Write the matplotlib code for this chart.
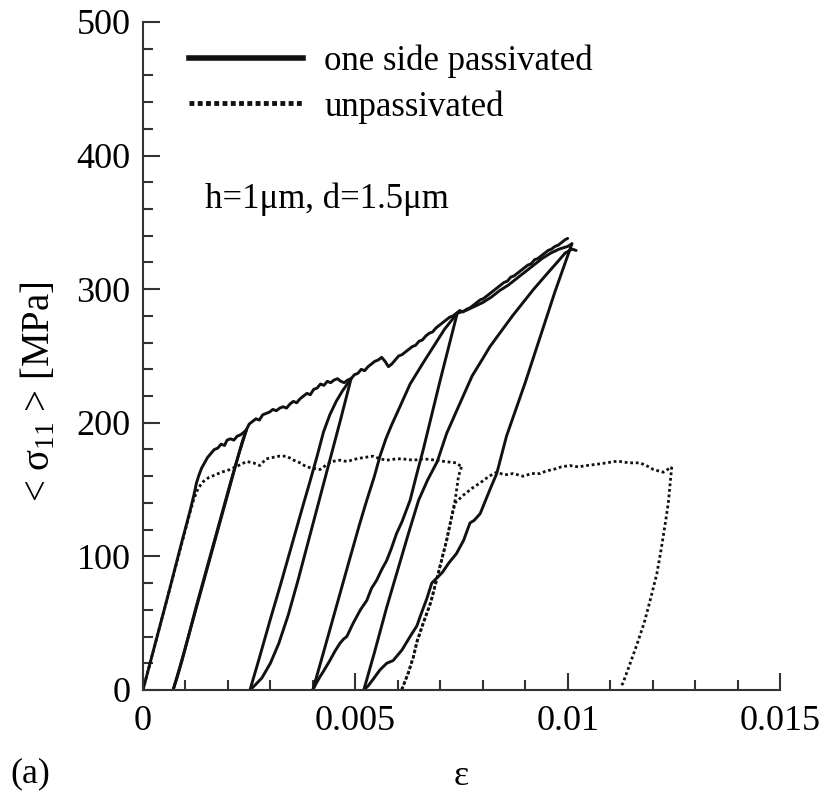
import numpy as np
import matplotlib
matplotlib.use("Agg")
import matplotlib.pyplot as plt
from matplotlib.lines import Line2D
from matplotlib.ticker import MultipleLocator, FixedLocator, FixedFormatter

plt.rcParams['font.family'] = ['Liberation Serif', 'DejaVu Serif']
plt.rcParams['mathtext.fontset'] = 'custom'
plt.rcParams['mathtext.rm'] = 'Liberation Serif'
plt.rcParams['mathtext.it'] = 'Liberation Serif:italic'

# strain values are given in units of 1e-3, stresses in MPa
# ---- one side passivated: monotonic loading ----
pas_main_eps = [0, 0.30, 0.60, 0.90, 1.10, 1.20, 1.26, 1.32, 1.38, 1.45, 1.52, 1.60, 1.68, 1.76,
                1.84, 1.92, 1.98, 2.06, 2.14, 2.22, 2.30, 2.38, 2.44, 2.50, 2.58, 2.66, 2.74, 2.82,
                2.90, 2.98, 3.06, 3.14, 3.22, 3.30, 3.38, 3.46, 3.54, 3.62, 3.70, 3.78, 3.86, 3.94,
                4.02, 4.10, 4.18, 4.26, 4.34, 4.42, 4.50, 4.58, 4.66, 4.74, 4.82, 4.90, 4.98, 5.06,
                5.14, 5.22, 5.30, 5.38, 5.46, 5.54, 5.62, 5.70, 5.78, 5.86, 5.94, 6.02, 6.10, 6.18,
                6.26, 6.34, 6.42, 6.50, 6.58, 6.66, 6.74, 6.82, 6.90, 6.98, 7.06, 7.14, 7.22, 7.30,
                7.38, 7.46, 7.54, 7.62, 7.70, 7.78, 7.86, 7.94, 8.02, 8.10, 8.18, 8.26, 8.34, 8.42,
                8.50, 8.58, 8.66, 8.74, 8.82, 8.90, 8.98, 9.06, 9.14, 9.22, 9.30, 9.38, 9.46, 9.54,
                9.62, 9.70, 9.78, 9.86, 9.94, 10.00]
pas_main_sig = [0, 36, 72, 109, 133, 146, 155, 161, 166, 170, 174, 177, 180, 181,
                184, 183, 187, 188, 187, 190, 191, 193, 195, 199, 201, 203, 202, 206,
                207, 208, 210, 209, 211, 212, 211, 214, 216, 215, 218, 220, 222, 221,
                225, 226, 229, 228, 231, 230, 232, 233, 231, 230, 232, 233, 236, 237,
                240, 239, 242, 244, 246, 247, 249, 246, 242, 244, 247, 250, 251, 253,
                255, 257, 258, 261, 262, 265, 267, 268, 271, 273, 275, 277, 279, 280,
                282, 284, 283, 285, 286, 288, 290, 292, 293, 295, 297, 299, 301, 303,
                305, 306, 309, 310, 312, 314, 316, 318, 319, 322, 323, 325, 327, 329,
                330, 332, 333, 335, 337, 338]

# ---- one side passivated: unloading / reloading cycles ----
pas_unload1_eps = [2.44, 2.25, 2.05, 1.85, 1.65, 1.45, 1.25, 1.07, 0.92, 0.80, 0.71]
pas_unload1_sig = [195, 176, 154, 131, 108, 85, 62, 40, 22, 9, 0]
pas_reload1_eps = [0.71, 0.84, 1.00, 1.20, 1.40, 1.60, 1.80, 2.00, 2.18, 2.34, 2.44]
pas_reload1_sig = [0, 14, 32, 55, 78, 101, 124, 147, 168, 186, 195]

pas_unload2_eps = [4.90, 4.65, 4.40, 4.15, 3.90, 3.65, 3.42, 3.20, 3.00, 2.80, 2.62, 2.52]
pas_unload2_sig = [233, 202, 172, 142, 112, 82, 56, 35, 20, 9, 3, 0]
pas_reload2_eps = [2.52, 2.75, 3.00, 3.25, 3.50, 3.75, 3.95, 4.10, 4.25, 4.40, 4.55, 4.70, 4.90]
pas_reload2_sig = [0, 25, 53, 80, 108, 136, 158, 175, 193, 206, 216, 224, 233]

pas_unload3_eps = [7.40, 7.20, 7.00, 6.80, 6.60, 6.45, 6.29, 6.10, 5.97, 5.85, 5.74, 5.62, 5.50,
                   5.38, 5.27, 5.12, 4.95, 4.80, 4.72, 4.64, 4.52, 4.40, 4.25, 4.17, 4.08, 4.00]
pas_unload3_sig = [282, 257, 232, 206, 180, 162, 142, 126, 117, 106, 97, 90, 82,
                   76, 67, 60, 50, 40, 38, 35, 29, 22, 14, 10, 5, 0]
pas_reload3_eps = [4.00, 4.25, 4.55, 4.85, 5.10, 5.27, 5.45, 5.58, 5.72, 5.85, 6.05, 6.29, 6.60,
                   6.84, 7.10, 7.40, 7.60, 7.80, 8.00, 8.20, 8.40, 8.60, 8.80, 9.00, 9.20, 9.40,
                   9.60, 9.80, 10.00, 10.10]
pas_reload3_sig = [0, 28, 62, 96, 124, 142, 160, 175, 188, 198, 212, 229, 245,
                   257, 270, 282, 284, 287, 290, 294, 299, 303, 308, 313, 318, 323,
                   327, 330, 332, 334]

pas_unload4_eps = [10.10, 9.70, 9.35, 9.00, 8.56, 8.33, 8.17, 7.94, 7.80, 7.70, 7.55, 7.38, 7.20,
                   7.05, 6.80, 6.68, 6.55, 6.45, 6.29, 6.10, 5.89, 5.74, 5.58, 5.42, 5.30, 5.20]
pas_unload4_sig = [334, 298, 264, 230, 190, 162, 150, 132, 127, 125, 112, 102, 95,
                   88, 80, 68, 57, 48, 40, 30, 22, 20, 15, 8, 3, 0]
pas_reload4_eps = [5.20, 5.45, 5.74, 6.00, 6.25, 6.49, 6.70, 6.93, 7.15, 7.40, 7.75, 8.00, 8.17,
                   8.40, 8.70, 8.95, 9.20, 9.50, 9.75, 9.94, 10.10, 10.20]
pas_reload4_sig = [0, 28, 62, 90, 117, 142, 157, 171, 192, 210, 235, 248, 257,
                   267, 280, 290, 300, 311, 320, 327, 330, 329]

# ---- unpassivated ----
unp_load_eps = [0, 0.30, 0.60, 0.90, 1.10, 1.20, 1.30, 1.42, 1.55, 1.70, 1.85, 2.05, 2.25, 2.44,
                2.60, 2.75, 2.90, 3.05, 3.20, 3.38, 3.55, 3.70, 3.85, 4.00, 4.17, 4.30, 4.45,
                4.64, 4.80, 5.03, 5.20, 5.42, 5.58, 5.74, 5.97, 6.10, 6.37, 6.60, 6.91, 7.10,
                7.38, 7.50]
unp_load_sig = [0, 36, 72, 108, 132, 143, 151, 156, 159, 161, 163, 165, 168, 171,
                170, 168, 173, 174, 175, 175, 172, 170, 167, 166, 165, 168, 171,
                172, 171, 173, 174, 175, 173, 172, 173, 173, 172, 173, 172, 171,
                170, 167]
unp_unload1_eps = [7.50, 7.43, 7.35, 7.25, 7.15, 7.03, 6.91, 6.78, 6.60, 6.45, 6.37, 6.25, 6.09]
unp_unload1_sig = [167, 160, 142, 127, 112, 97, 82, 66, 50, 36, 25, 13, 0]
unp_reload_eps = [6.09, 6.25, 6.37, 6.45, 6.60, 6.78, 6.91, 7.03, 7.15, 7.25, 7.35, 7.55, 7.75,
                  7.94, 8.15, 8.33, 8.52, 8.72, 8.95, 9.15, 9.35, 9.50, 9.66, 9.85, 10.05,
                  10.25, 10.45, 10.70, 10.92, 11.10, 11.23, 11.45, 11.70, 11.85, 12.02, 12.25,
                  12.45]
unp_reload_sig = [0, 13, 25, 36, 50, 66, 82, 97, 112, 127, 140, 146, 151,
                  155, 160, 163, 161, 162, 160, 162, 162, 164, 165, 167, 168,
                  167, 168, 169, 170, 171, 171, 170, 170, 168, 165, 163,
                  167]
unp_unload2_eps = [12.45, 12.42, 12.37, 12.30, 12.20, 12.10, 11.95, 11.80, 11.62, 11.45, 11.30, 11.23]
unp_unload2_sig = [167, 157, 140, 125, 105, 87, 68, 50, 33, 18, 5, 2]

x_ticks = [0, 0.005, 0.01, 0.015]
x_ticklabels = ['0', '0.005', '0.01', '0.015']
y_ticks = [0, 100, 200, 300, 400, 500]
legend_labels = ['one side passivated', 'unpassivated']

fig = plt.figure(figsize=(8.38, 7.97), dpi=100)
ax = fig.add_axes([0.1706, 0.1343, 0.7602, 0.8381])

solid = dict(color='#111111', lw=2.1, solid_joinstyle='round', solid_capstyle='round')
dotted = dict(color='#111111', lw=2.0, linestyle=(0, (1, 1)))

def to_strain(vals):
    return np.asarray(vals) * 1e-3

passivated = [
    (pas_main_eps, pas_main_sig),
    (pas_unload1_eps, pas_unload1_sig), (pas_reload1_eps, pas_reload1_sig),
    (pas_unload2_eps, pas_unload2_sig), (pas_reload2_eps, pas_reload2_sig),
    (pas_unload3_eps, pas_unload3_sig), (pas_reload3_eps, pas_reload3_sig),
    (pas_unload4_eps, pas_unload4_sig), (pas_reload4_eps, pas_reload4_sig),
]
for e, s in passivated:
    ax.plot(to_strain(e), s, **solid)

unpassivated = [
    (unp_load_eps, unp_load_sig), (unp_unload1_eps, unp_unload1_sig),
    (unp_reload_eps, unp_reload_sig), (unp_unload2_eps, unp_unload2_sig),
]
for e, s in unpassivated:
    ax.plot(to_strain(e), s, **dotted)

ax.set_xlim(0, 0.015)
ax.set_ylim(0, 500)
for side in ('top', 'right'):
    ax.spines[side].set_visible(False)
for side in ('left', 'bottom'):
    ax.spines[side].set_linewidth(1.5)
    ax.spines[side].set_color('#333333')

ax.xaxis.set_major_locator(FixedLocator(x_ticks))
ax.xaxis.set_major_formatter(FixedFormatter(x_ticklabels))
ax.xaxis.set_minor_locator(MultipleLocator(0.001))
ax.yaxis.set_major_locator(FixedLocator(y_ticks))
ax.yaxis.set_minor_locator(MultipleLocator(20))
ax.tick_params(which='both', direction='in', width=1.5, color='#333333', labelsize=26)
ax.tick_params(which='major', length=12.5)
ax.tick_params(which='minor', length=7.5)
ax.tick_params(axis='x', pad=11)
ax.tick_params(axis='y', pad=9)

ax.set_xlabel('ε', fontsize=26)
ax.xaxis.set_label_coords(0.5, -0.105)
ax.set_ylabel('< σ$_{11}$ > [MPa]', fontsize=28)
ax.yaxis.set_label_coords(-0.133, 0.447)

ax.text(0.00146, 367, 'h=1μm, d=1.5μm', fontsize=25, ha='left', va='center')
fig.text(0.012, 0.018, '(a)', fontsize=26, ha='left', va='baseline')

handles = [Line2D([], [], color='#111111', lw=4.0),
           Line2D([], [], color='#111111', lw=3.5, linestyle=(0, (1, 0.7)))]
ax.legend(handles, legend_labels, loc='upper left', bbox_to_anchor=(0.072, 0.966),
          frameon=False, fontsize=25, handlelength=3.3, handletextpad=0.6,
          labelspacing=0.34, borderpad=0, borderaxespad=0)

fig.savefig('out.png', dpi=100)
